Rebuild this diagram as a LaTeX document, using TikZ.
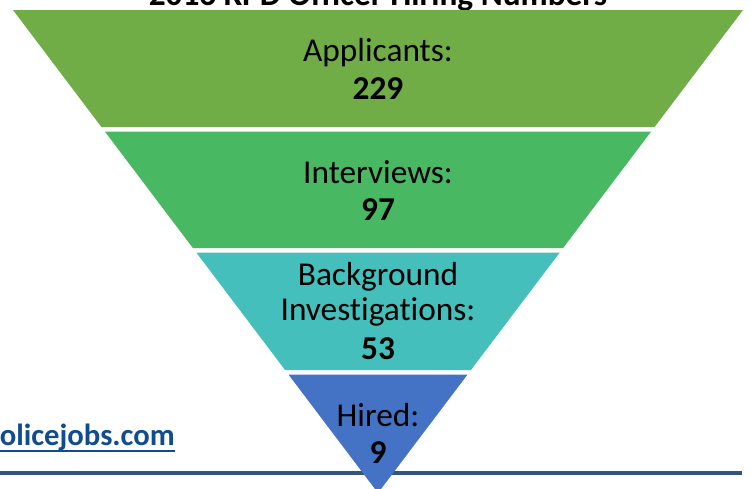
\documentclass[tikz,border=0pt]{standalone}
\usepackage{fontspec}
\setmainfont{Carlito}[Ligatures=CommonOff]
\definecolor{bandone}{RGB}{112,173,71}
\definecolor{bandtwo}{RGB}{72,184,99}
\definecolor{bandthree}{RGB}{68,191,187}
\definecolor{bandfour}{RGB}{68,114,196}
\definecolor{rulecol}{RGB}{52,84,122}
\definecolor{linkcol}{RGB}{16,76,142}
\begin{document}
\begin{tikzpicture}[x=0.75pt, y=-0.75pt,
    every node/.style={inner sep=0pt, anchor=base, font=\fontsize{25}{29}\selectfont},
    count/.style={font=\fontsize{25}{29}\selectfont\bfseries}]
  \clip (0,0) rectangle (751,489);

  % title, cut off at the top
  \node[count] (title) at (378,6) {2016 KPD Officer Hiring Numbers};

  % rule and link
  \draw[rulecol, line width=2.8pt] (0,473) -- (742,473);
  \node[anchor=base east, text=linkcol, font=\fontsize{23}{27}\selectfont\bfseries] (link) at (175,445) {policejobs.com};
  \draw[linkcol, line width=1.5pt] ([yshift=-4.8pt]link.base west) -- ([yshift=-4.8pt]link.base east);

  % funnel bands
  \foreach \t/\b/\c in {10/127/bandone, 131.5/248/bandtwo, 252.5/370/bandthree, 374.5/493/bandfour}
    \fill[\c] ({378-0.7557*(493-\t)},\t) -- ({378+0.7557*(493-\t)},\t)
      -- ({378+0.7557*(493-\b)},\b) -- ({378-0.7557*(493-\b)},\b) -- cycle;

  \node (applbl) at (378,61) {Applicants:};
  \node[count] (appnum) at (378,99) {229};
  \node (intlbl) at (378,183) {Interviews:};
  \node[count] (intnum) at (378,220) {97};
  \node (bglbl) at (378,285) {Background};
  \node (invlbl) at (378,320) {Investigations:};
  \node[count] (bgnum) at (378,359) {53};
  \node (hirelbl) at (378,426) {Hired:};
  \node[count] (hirenum) at (378,463) {9};
\end{tikzpicture}
\end{document}
